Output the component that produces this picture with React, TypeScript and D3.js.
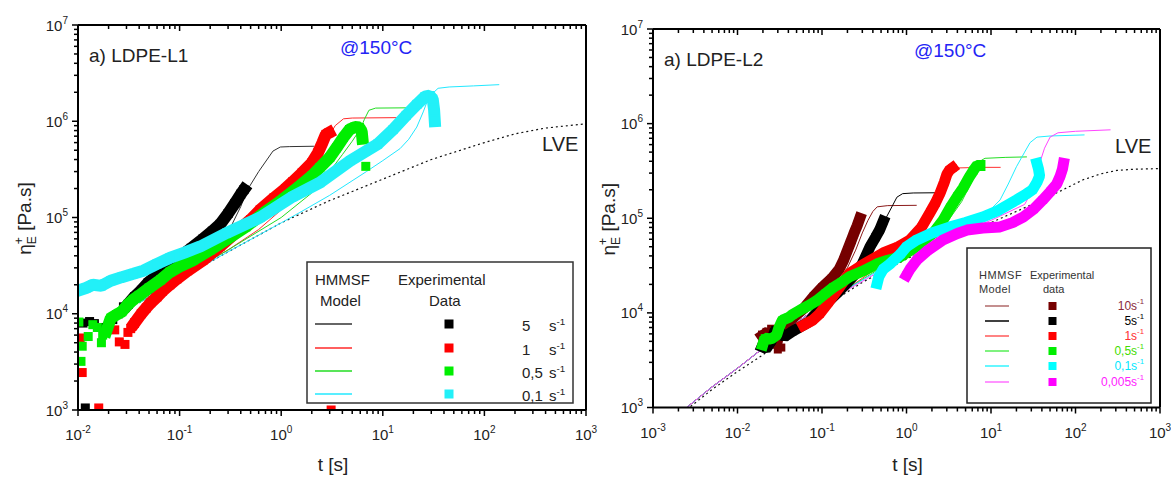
import React from 'react';
import * as d3 from 'd3';

type Pt = [number, number];

// ================= LDPE-L1 (left panel) =================
const L1_RATE_LABELS = ['5', '1', '0,5', '0,1'];

const L1_LVE: Pt[] = [
  [0.04, 1.3e4], [0.1, 2.3e4], [0.3, 4.4e4], [1, 8.8e4], [3, 1.5e5], [10, 2.5e5],
  [30, 4.0e5], [100, 6.0e5], [200, 7.4e5], [400, 8.5e5], [1000, 9.4e5],
];

const L1_MODEL_5: Pt[] = [
  [0.04, 1.35e4], [0.1, 2.5e4], [0.2, 4.2e4], [0.3, 7.0e4], [0.4, 1.3e5], [0.46, 1.9e5],
  [0.6, 3.0e5], [0.83, 4.9e5], [0.98, 5.4e5], [1.2, 5.45e5], [2.1, 5.5e5],
];
const L1_MODEL_1: Pt[] = [
  [0.04, 1.3e4], [0.1, 2.4e4], [0.3, 4.6e4], [0.6, 7.5e4], [1, 1.2e5], [1.5, 1.9e5],
  [2.1, 3.8e5], [2.5, 5.0e5], [2.9, 6.8e5], [3.4, 9.0e5], [4.1, 1.06e6], [5, 1.08e6], [13.7, 1.09e6],
];
const L1_MODEL_05: Pt[] = [
  [0.04, 1.3e4], [0.1, 2.35e4], [0.3, 4.6e4], [1, 1.0e5], [2, 1.8e5], [3, 3.0e5], [4, 4.5e5],
  [5, 6.2e5], [6, 8.3e5], [6.6, 1.05e6], [7.3, 1.3e6], [8.5, 1.37e6], [19.4, 1.38e6],
];
const L1_MODEL_01: Pt[] = [
  [0.04, 1.3e4], [0.1, 2.3e4], [0.3, 4.4e4], [1, 8.8e4], [1.53, 1.13e5], [3, 1.7e5], [6.9, 3.0e5],
  [10, 3.9e5], [14.8, 5.2e5], [18, 6.5e5], [21.6, 8.7e5], [25, 1.25e6], [27, 1.55e6], [31, 1.95e6],
  [35, 2.2e6], [45, 2.27e6], [78, 2.33e6], [140, 2.4e6],
];

const L1_EXP_5_PTS: Pt[] = [
  [0.0118, 1.05e3], [0.0112, 8.0e3], [0.013, 8.3e3], [0.0145, 7.9e3], [0.0165, 7.2e3],
  [0.019, 6.8e3], [0.022, 8.7e3], [0.025, 1.0e4], [0.028, 1.18e4], [0.031, 1.25e4],
];
const L1_EXP_5_BAND: Pt[] = [
  [0.031, 1.25e4], [0.036, 1.5e4], [0.042, 1.75e4], [0.049, 2.1e4], [0.06, 2.5e4], [0.08, 3.2e4],
  [0.1, 3.9e4], [0.13, 4.8e4], [0.17, 6.0e4], [0.21, 7.2e4], [0.25, 8.5e4], [0.3, 1.1e5],
  [0.35, 1.4e5], [0.4, 1.75e5], [0.43, 1.95e5],
];
const L1_EXP_1_PTS: Pt[] = [
  [0.0105, 5.6e3], [0.011, 2.45e3], [0.016, 1.05e3], [0.023, 6.8e3], [0.0255, 5.1e3],
  [0.029, 4.8e3], [0.031, 6.4e3], [0.033, 7.0e3], [0.036, 8.0e3], [3.1, 1.0e3],
];
const L1_EXP_1_BAND: Pt[] = [
  [0.036, 8.0e3], [0.042, 1.0e4], [0.047, 1.15e4], [0.052, 1.3e4], [0.06, 1.5e4], [0.068, 1.72e4],
  [0.08, 2.0e4], [0.094, 2.3e4], [0.12, 2.8e4], [0.17, 3.6e4], [0.25, 5.0e4], [0.37, 7.2e4],
  [0.5, 9.5e4], [0.62, 1.2e5], [0.85, 1.6e5], [1.1, 2.0e5], [1.3, 2.35e5], [1.6, 2.9e5],
  [2.0, 3.7e5], [2.3, 4.7e5], [2.55, 6.0e5], [2.75, 7.3e5], [2.95, 7.6e5],
];
const L1_EXP_05_PTS: Pt[] = [
  [0.0102, 8.2e3], [0.0107, 3.2e3], [0.011, 4.6e3], [0.0126, 5.8e3], [0.014, 7.7e3],
  [0.0155, 7.2e3], [0.017, 5.0e3], [0.0175, 6.0e3], [0.019, 6.6e3], [6.8, 3.4e5],
];
const L1_EXP_05_BAND: Pt[] = [
  [0.019, 6.6e3], [0.021, 9.0e3], [0.024, 9.8e3], [0.027, 1.05e4], [0.031, 1.25e4], [0.035, 1.4e4],
  [0.04, 1.55e4], [0.05, 1.85e4], [0.065, 2.25e4], [0.08, 2.7e4], [0.1, 3.1e4], [0.136, 3.6e4],
  [0.2, 4.6e4], [0.29, 5.9e4], [0.45, 8.0e4], [0.7, 1.15e5], [1.0, 1.5e5], [1.5, 2.1e5],
  [2.0, 2.7e5], [2.4, 3.3e5], [3.0, 4.2e5], [3.5, 5.3e5], [4.1, 6.8e5], [4.7, 8.2e5],
  [5.3, 8.7e5], [5.9, 8.6e5], [6.2, 7.8e5], [6.3, 6.6e5],
];
const L1_EXP_01_PTS: Pt[] = [];
const L1_EXP_01_BAND: Pt[] = [
  [0.0102, 1.75e4], [0.012, 1.85e4], [0.014, 2.0e4], [0.017, 1.95e4], [0.021, 2.2e4], [0.027, 2.4e4],
  [0.035, 2.6e4], [0.044, 2.8e4], [0.06, 3.3e4], [0.08, 3.8e4], [0.11, 4.3e4], [0.16, 5.0e4],
  [0.29, 6.9e4], [0.62, 1.0e5], [1.3, 1.65e5], [2.4, 2.3e5], [4.8, 3.9e5], [8.9, 5.8e5],
  [12.6, 8.2e5], [17, 1.15e6], [21.7, 1.5e6], [26, 1.8e6], [29, 1.85e6], [31, 1.7e6],
  [32, 1.3e6], [32.5, 1.0e6],
];

// ================= LDPE-L2 (right panel) =================
const L2_RATE_LABELS = ['10', '5', '1', '0,5', '0,1', '0,005'];

const L2_LVE: Pt[] = [
  [0.0025, 0.95e3], [0.005, 1.55e3], [0.01, 2.4e3], [0.02, 3.6e3], [0.05, 7.0e3], [0.1, 1.12e4],
  [0.3, 2.1e4], [1, 3.7e4], [3, 6.0e4], [10, 9.0e4], [24, 1.27e5], [40, 1.55e5], [71, 2.0e5],
  [123, 2.55e5], [200, 2.95e5], [308, 3.2e5], [500, 3.3e5], [1000, 3.35e5],
];

const L2_MODEL_10: Pt[] = [
  [0.0025, 1.0e3], [0.005, 1.65e3], [0.01, 2.6e3], [0.0185, 4.0e3], [0.05, 7.8e3], [0.1, 1.25e4],
  [0.15, 2.0e4], [0.2, 3.0e4], [0.25, 4.6e4], [0.3, 7.0e4], [0.35, 9.5e4], [0.4, 1.18e5],
  [0.45, 1.32e5], [0.6, 1.36e5], [1.32, 1.37e5],
];
const L2_MODEL_5: Pt[] = [
  [0.0025, 1.0e3], [0.005, 1.65e3], [0.01, 2.6e3], [0.0185, 4.0e3], [0.05, 7.8e3], [0.1, 1.25e4],
  [0.2, 1.9e4], [0.3, 3.2e4], [0.4, 5.2e4], [0.5, 8.0e4], [0.58, 1.03e5], [0.68, 1.35e5],
  [0.77, 1.67e5], [0.9, 1.82e5], [1.2, 1.85e5], [2.4, 1.86e5],
];
const L2_MODEL_1: Pt[] = [
  [0.0025, 1.0e3], [0.005, 1.65e3], [0.01, 2.6e3], [0.0185, 4.0e3], [0.05, 7.8e3], [0.1, 1.25e4],
  [0.2, 1.8e4], [0.5, 3.2e4], [1, 5.0e4], [1.5, 7.5e4], [2, 1.1e5], [2.5, 1.7e5], [3, 2.5e5],
  [3.5, 3.1e5], [3.9, 3.4e5], [8, 3.45e5], [13, 3.45e5],
];
const L2_MODEL_05: Pt[] = [
  [0.0025, 1.0e3], [0.005, 1.65e3], [0.01, 2.6e3], [0.0185, 4.0e3], [0.05, 7.8e3], [0.1, 1.25e4],
  [0.2, 1.8e4], [0.5, 3.0e4], [1, 4.4e4], [2, 6.5e4], [3, 9.0e4], [4.5, 1.5e5], [6, 2.5e5],
  [7, 3.5e5], [7.7, 4.1e5], [8.5, 4.3e5], [15, 4.4e5], [26.6, 4.45e5],
];
const L2_MODEL_01: Pt[] = [
  [0.0025, 1.0e3], [0.005, 1.65e3], [0.01, 2.6e3], [0.0185, 4.0e3], [0.05, 7.8e3], [0.1, 1.25e4],
  [0.2, 1.8e4], [0.5, 2.9e4], [1, 4.0e4], [3, 6.5e4], [8, 1.02e5], [12.8, 1.56e5], [16, 2.3e5],
  [20, 3.5e5], [25, 5.0e5], [29, 6.3e5], [35, 7.2e5], [50, 7.4e5], [128, 7.6e5],
];
const L2_MODEL_0005: Pt[] = [
  [0.0025, 1.0e3], [0.005, 1.65e3], [0.01, 2.6e3], [0.0185, 4.0e3], [0.05, 7.8e3], [0.1, 1.25e4],
  [0.2, 1.75e4], [0.5, 2.8e4], [1, 3.8e4], [3, 6.2e4], [10, 9.5e4], [25, 1.4e5], [33, 2.2e5],
  [37.6, 3.8e5], [43, 5.5e5], [50, 7.2e5], [62, 8.0e5], [100, 8.3e5], [260, 8.6e5],
];

const L2_EXP_10_PTS: Pt[] = [
  [0.0195, 5.9e3], [0.022, 6.3e3], [0.025, 6.8e3], [0.03, 4.1e3], [0.033, 4.3e3],
];
const L2_EXP_10_BAND: Pt[] = [
  [0.0195, 5.7e3], [0.023, 6.3e3], [0.026, 5.2e3], [0.029, 4.6e3], [0.032, 7.0e3], [0.04, 8.0e3],
  [0.06, 1.1e4], [0.08, 1.5e4], [0.1, 1.85e4], [0.13, 2.3e4], [0.16, 2.9e4], [0.18, 3.6e4],
  [0.2, 4.6e4], [0.22, 5.7e4], [0.24, 7.0e4], [0.26, 8.3e4], [0.28, 1.0e5],
];
const L2_EXP_5_PTS: Pt[] = [];
const L2_EXP_5_BAND: Pt[] = [
  [0.0195, 4.4e3], [0.022, 4.2e3], [0.025, 5.0e3], [0.028, 6.6e3], [0.032, 6.2e3], [0.036, 5.6e3],
  [0.045, 6.4e3], [0.055, 7.1e3], [0.07, 8.0e3], [0.09, 1.05e4], [0.124, 1.37e4], [0.16, 1.7e4],
  [0.2, 2.1e4], [0.25, 2.6e4], [0.3, 3.3e4], [0.37, 5.0e4], [0.43, 6.3e4], [0.48, 7.5e4], [0.53, 9.3e4],
];
const L2_EXP_1_PTS: Pt[] = [];
const L2_EXP_1_BAND: Pt[] = [
  [0.06, 7.4e3], [0.078, 8.4e3], [0.094, 9.8e3], [0.12, 1.3e4], [0.16, 1.85e4], [0.21, 2.6e4],
  [0.3, 3.2e4], [0.53, 4.3e4], [0.8, 5.0e4], [1.1, 5.9e4], [1.5, 8.0e4], [1.9, 1.15e5],
  [2.2, 1.45e5], [2.5, 1.85e5], [2.8, 2.4e5], [3.0, 2.9e5], [3.2, 3.2e5], [3.5, 3.4e5],
];
const L2_EXP_05_PTS: Pt[] = [];
const L2_EXP_05_BAND: Pt[] = [
  [0.0199, 4.6e3], [0.021, 5.4e3], [0.025, 5.3e3], [0.029, 5.8e3], [0.031, 7.0e3], [0.034, 8.4e3],
  [0.04, 8.9e3], [0.045, 9.6e3], [0.055, 1.07e4], [0.07, 1.2e4], [0.087, 1.35e4], [0.11, 1.6e4],
  [0.135, 1.85e4], [0.17, 2.1e4], [0.21, 2.4e4], [0.3, 2.75e4], [0.45, 3.3e4], [0.6, 3.6e4],
  [0.84, 3.9e4], [1.3, 5.0e4], [2.05, 6.9e4], [2.7, 9.5e4], [3.3, 1.3e5], [4.0, 1.7e5],
  [4.7, 2.1e5], [5.5, 2.7e5], [6.2, 3.2e5], [6.8, 3.6e5], [7.4, 3.6e5],
];
const L2_EXP_01_PTS: Pt[] = [];
const L2_EXP_01_BAND: Pt[] = [
  [0.45, 2.05e4], [0.47, 2.4e4], [0.53, 2.9e4], [0.64, 3.3e4], [0.85, 4.2e4], [1.0, 5.0e4],
  [1.32, 5.9e4], [2.0, 7.0e4], [3.3, 8.1e4], [5, 9.0e4], [8, 1.03e5], [12, 1.2e5], [20, 1.56e5],
  [26, 1.8e5], [31, 2.0e5], [35, 2.4e5], [37.6, 2.8e5], [36.5, 3.3e5], [35, 3.8e5],
];
const L2_EXP_0005_PTS: Pt[] = [];
const L2_EXP_0005_BAND: Pt[] = [
  [1.0, 2.5e4], [1.1, 2.9e4], [1.32, 3.6e4], [1.8, 4.6e4], [2.7, 5.9e4], [4, 6.9e4], [5.2, 7.5e4],
  [8, 7.9e4], [12.8, 8.1e4], [18, 9.0e4], [24, 1.03e5], [32, 1.25e5], [41, 1.56e5], [50, 1.9e5],
  [60, 2.3e5], [66, 2.8e5], [70, 3.3e5], [72, 3.8e5],
];

// ================= rendering =================
const FONT = "'Liberation Sans', Arial, Helvetica, sans-serif";

interface Exp { pts: Pt[]; band: Pt[]; color: string; }
interface Model { data: Pt[]; color: string; }

interface PanelProps {
  id: string;
  left: number; right: number; top: number; bottom: number;
  xExp: [number, number]; yExp: [number, number];
  lve: Pt[]; models: Model[]; exps: Exp[];
  marker: number; bandW: number;
  title: string; titleX: number; titleY: number;
  tempX: number; tempY: number;
  lveX: number; lveY: number;
  yTitleX: number;
}

function Panel(p: PanelProps) {
  const x = d3.scaleLog().domain([10 ** p.xExp[0], 10 ** p.xExp[1]]).range([p.left, p.right]);
  const y = d3.scaleLog().domain([10 ** p.yExp[0], 10 ** p.yExp[1]]).range([p.bottom, p.top]);
  const line = d3.line<Pt>().x(d => x(d[0])).y(d => y(d[1]));
  const majX = d3.range(p.xExp[0], p.xExp[1] + 1);
  const majY = d3.range(p.yExp[0], p.yExp[1] + 1);
  const minX: number[] = [];
  for (let e = p.xExp[0]; e < p.xExp[1]; e++) for (let m = 2; m <= 9; m++) minX.push(m * 10 ** e);
  const minY: number[] = [];
  for (let e = p.yExp[0]; e < p.yExp[1]; e++) for (let m = 2; m <= 9; m++) minY.push(m * 10 ** e);
  const ms = p.marker;
  const cy = (p.top + p.bottom) / 2;
  const cx = (p.left + p.right) / 2;
  return (
    <g>
      <defs>
        <clipPath id={p.id}>
          <rect x={p.left} y={p.top} width={p.right - p.left} height={p.bottom - p.top} />
        </clipPath>
      </defs>
      <g clipPath={`url(#${p.id})`}>
        <path d={line(p.lve) || ''} fill="none" stroke="#111" strokeWidth={1.2} strokeDasharray="2,3" />
        {p.models.map((m, i) => (
          <path key={'m' + i} d={line(m.data) || ''} fill="none" stroke={m.color} strokeWidth={1} />
        ))}
        {p.exps.map((s, i) => (
          <g key={'e' + i}>
            {s.band.length > 1 && (
              <path d={line(s.band) || ''} fill="none" stroke={s.color} strokeWidth={p.bandW}
                strokeLinejoin="bevel" strokeLinecap="square" />
            )}
            {s.band.concat(s.pts).map((d, j) => (
              <rect key={j} x={x(d[0]) - ms / 2} y={y(d[1]) - ms / 2} width={ms} height={ms} fill={s.color} />
            ))}
          </g>
        ))}
      </g>
      {/* frame */}
      <g stroke="#000" strokeWidth={2} fill="none">
        <line x1={p.left} x2={p.right} y1={p.bottom} y2={p.bottom} />
        <line x1={p.left} x2={p.right} y1={p.top} y2={p.top} />
        <line x1={p.left} x2={p.left} y1={p.top} y2={p.bottom} />
        <line x1={p.right} x2={p.right} y1={p.top} y2={p.bottom} />
      </g>
      <g stroke="#000" strokeWidth={1.5}>
        {majX.map(e => (
          <g key={'mx' + e}>
            <line x1={x(10 ** e)} x2={x(10 ** e)} y1={p.bottom} y2={p.bottom + 6} />
            <line x1={x(10 ** e)} x2={x(10 ** e)} y1={p.top} y2={p.top + 6} />
          </g>
        ))}
        {minX.map((v, i) => (
          <g key={'nx' + i}>
            <line x1={x(v)} x2={x(v)} y1={p.bottom} y2={p.bottom + 4} />
            <line x1={x(v)} x2={x(v)} y1={p.top} y2={p.top + 4} />
          </g>
        ))}
        {majY.map(e => (
          <line key={'my' + e} x1={p.left - 6} x2={p.left} y1={y(10 ** e)} y2={y(10 ** e)} />
        ))}
        {minY.map((v, i) => (
          <line key={'ny' + i} x1={p.left - 4} x2={p.left} y1={y(v)} y2={y(v)} />
        ))}
      </g>
      <g fontFamily={FONT} fill="#222">
        {majX.map(e => (
          <text key={'lx' + e} x={x(10 ** e)} y={p.bottom + 30} textAnchor="middle" fontSize={15}>
            10<tspan dy={-7} fontSize={10}>{String(e)}</tspan>
          </text>
        ))}
        {majY.map(e => (
          <text key={'ly' + e} x={p.left - 10} y={y(10 ** e) + 5.5} textAnchor="end" fontSize={15}>
            10<tspan dy={-7} fontSize={10}>{String(e)}</tspan>
          </text>
        ))}
        <text x={cx + 1} y={471} textAnchor="middle" fontSize={19}>t [s]</text>
        <text transform={`translate(${p.yTitleX},${cy + 1}) rotate(-90)`} textAnchor="middle" fontSize={19}>
          η<tspan dy={-8} fontSize={12}>+</tspan><tspan dx={-7} dy={13} fontSize={12}>E</tspan>
          <tspan dy={-5}> [Pa.s]</tspan>
        </text>
        <text x={p.titleX} y={p.titleY} fontSize={19}>{p.title}</text>
        <text x={p.tempX} y={p.tempY} fontSize={19} fill="#2424f5">@150°C</text>
        <text x={p.lveX} y={p.lveY} fontSize={20}>LVE</text>
      </g>
    </g>
  );
}

function Sup({ base }: { base: string }) {
  return <>{base}<tspan dy={-6} fontSize="0.65em">-1</tspan></>;
}

export default function App() {
  const l1Colors = ['#000000', '#ff0000', '#00ee00', '#22f0f8'];
  const l1LineColors = ['#333333', '#ff2a2a', '#22dd22', '#22e8ff'];
  const l1Exps: Exp[] = [
    { pts: L1_EXP_5_PTS, band: L1_EXP_5_BAND, color: l1Colors[0] },
    { pts: L1_EXP_1_PTS, band: L1_EXP_1_BAND, color: l1Colors[1] },
    { pts: L1_EXP_05_PTS, band: L1_EXP_05_BAND, color: l1Colors[2] },
    { pts: L1_EXP_01_PTS, band: L1_EXP_01_BAND, color: l1Colors[3] },
  ];
  const l1Models: Model[] = [L1_MODEL_5, L1_MODEL_1, L1_MODEL_05, L1_MODEL_01].map((d, i) => ({ data: d, color: l1LineColors[i] }));

  const l2Colors = ['#760000', '#000000', '#ff0000', '#00ee00', '#00ffff', '#ff00ff'];
  const l2LineColors = ['#8b1a1a', '#000000', '#ff3030', '#22dd22', '#22eeff', '#ff44ff'];
  const l2TextColors = ['#8b2a3a', '#000000', '#ff3030', '#44dd00', '#00e8ff', '#ff22ff'];
  const l2LegendLine = ['#b06a6a', '#000000', '#ff5a5a', '#55ee55', '#33f5ff', '#ff70ff'];
  const l2Exps: Exp[] = [
    { pts: L2_EXP_10_PTS, band: L2_EXP_10_BAND, color: l2Colors[0] },
    { pts: L2_EXP_5_PTS, band: L2_EXP_5_BAND, color: l2Colors[1] },
    { pts: L2_EXP_1_PTS, band: L2_EXP_1_BAND, color: l2Colors[2] },
    { pts: L2_EXP_05_PTS, band: L2_EXP_05_BAND, color: l2Colors[3] },
    { pts: L2_EXP_01_PTS, band: L2_EXP_01_BAND, color: l2Colors[4] },
    { pts: L2_EXP_0005_PTS, band: L2_EXP_0005_BAND, color: l2Colors[5] },
  ];
  const l2Models: Model[] = [L2_MODEL_10, L2_MODEL_5, L2_MODEL_1, L2_MODEL_05, L2_MODEL_01, L2_MODEL_0005]
    .map((d, i) => ({ data: d, color: l2LineColors[i] }));

  const l1Rows = [324, 348, 371, 394];
  const l2Rows = [306, 321, 336, 351, 366, 382];

  return (
    <svg width={1171} height={478} style={{ position: 'absolute', left: 0, top: 0, background: '#fff' }}>
      <rect x={0} y={0} width={1171} height={478} fill="#fff" />
      <Panel id="clipL1" left={78} right={586} top={25} bottom={410}
        xExp={[-2, 3]} yExp={[3, 7]} lve={L1_LVE} models={l1Models} exps={l1Exps}
        marker={9} bandW={12}
        title="a) LDPE-L1" titleX={89} titleY={62} tempX={340} tempY={54}
        lveX={542} lveY={151} yTitleX={31} />
      <Panel id="clipL2" left={653} right={1160} top={29} bottom={407.5}
        xExp={[-3, 3]} yExp={[3, 7]} lve={L2_LVE} models={l2Models} exps={l2Exps}
        marker={8} bandW={11}
        title="a) LDPE-L2" titleX={664} titleY={66} tempX={914} tempY={57}
        lveX={1115} lveY={153} yTitleX={615} />

      {/* legend L1 */}
      <g fontFamily={FONT} fill="#222">
        <rect x={307} y={262} width={266} height={141} fill="#fff" stroke="#333" strokeWidth={1.5} />
        <text x={315} y={285} fontSize={15}>HMMSF</text>
        <text x={398} y={285} fontSize={15}>Experimental</text>
        <text x={320} y={306} fontSize={15}>Model</text>
        <text x={429} y={306} fontSize={15}>Data</text>
        {l1Rows.map((ry, i) => (
          <g key={'l1r' + i}>
            <line x1={315} x2={352} y1={ry} y2={ry} stroke={l1LineColors[i]} strokeWidth={1.5} />
            <rect x={444.5} y={ry - 4.5} width={9} height={9} fill={l1Colors[i]} />
            <text x={522} y={ry + 7} fontSize={15}>{L1_RATE_LABELS[i]}</text>
            <text x={549} y={ry + 7} fontSize={15}><Sup base="s" /></text>
          </g>
        ))}
      </g>

      {/* legend L2 */}
      <g fontFamily={FONT} fill="#333">
        <rect x={967} y={248} width={184} height={155} fill="#fff" stroke="#222" strokeWidth={1.5} />
        <text x={979} y={279} fontSize={11} letterSpacing={0.6}>HMMSF</text>
        <text x={979} y={293} fontSize={11} letterSpacing={0.4}>Model</text>
        <text x={1030} y={279} fontSize={11}>Experimental</text>
        <text x={1043} y={293} fontSize={11}>data</text>
        {l2Rows.map((ry, i) => (
          <g key={'l2r' + i}>
            <line x1={985} x2={1009} y1={ry} y2={ry} stroke={l2LegendLine[i]} strokeWidth={1.5} />
            <rect x={1048.5} y={ry - 4} width={8} height={8} fill={l2Colors[i]} />
            <text x={1144} y={ry + 4} fontSize={12} textAnchor="end" fill={l2TextColors[i]}>
              <Sup base={L2_RATE_LABELS[i] + 's'} />
            </text>
          </g>
        ))}
      </g>
    </svg>
  );
}
